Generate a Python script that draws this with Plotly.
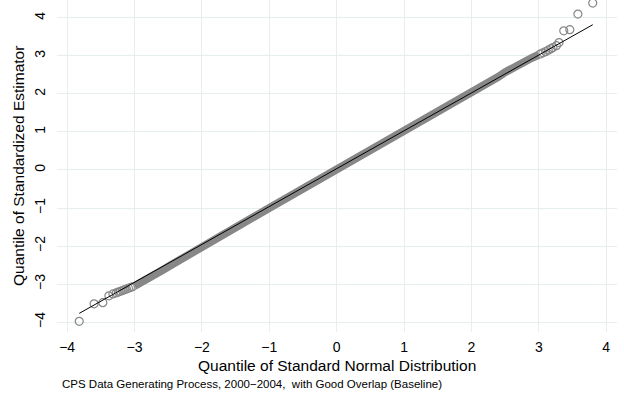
import plotly.graph_objects as go

# Dense central band of the QQ plot
band_x = [-3.0, -2.9, -2.8, -2.6, -2.4, -2.2, -2.0, -1.5, -1.0, -0.5, 0.0,
          0.5, 1.0, 1.5, 2.0, 2.2, 2.4, 2.5, 2.6, 2.7, 2.8, 2.9, 3.0]
band_y = [-3.05, -2.96, -2.86, -2.65, -2.44, -2.22, -2.01, -1.51, -1.0, -0.5, 0.0,
          0.5, 1.0, 1.51, 2.02, 2.23, 2.45, 2.57, 2.68, 2.76, 2.86, 2.95, 3.03]

# Individual tail points (hollow circles)
tail_x = [-3.82, -3.60, -3.47, -3.38, -3.32, -3.27, -3.24, -3.21, -3.18, -3.15, -3.12,
          -3.09, -3.06, -3.03,
          3.02, 3.06, 3.10, 3.14, 3.18, 3.21, 3.26, 3.30, 3.37, 3.46, 3.58, 3.80]
tail_y = [-3.98, -3.52, -3.49, -3.31, -3.26, -3.23, -3.21, -3.19, -3.17, -3.15, -3.13,
          -3.11, -3.09, -3.07,
          3.05, 3.08, 3.11, 3.15, 3.19, 3.22, 3.27, 3.35, 3.66, 3.69, 4.10, 4.39]

# Reference line endpoints
ref_x = [-3.82, 3.80]
ref_y = [-3.77, 3.82]

x_ticks = [-4, -3, -2, -1, 0, 1, 2, 3, 4]
y_ticks = [-4, -3, -2, -1, 0, 1, 2, 3, 4]

FONT = "Liberation Sans, Arial, sans-serif"
GRAY = "#878787"

fig = go.Figure()
fig.add_trace(go.Scatter(x=band_x, y=band_y, mode="lines",
                         line=dict(color=GRAY, width=8), hoverinfo="skip"))
fig.add_trace(go.Scatter(x=tail_x, y=tail_y, mode="markers",
                         marker=dict(symbol="circle-open", size=8, color=GRAY,
                                     line=dict(width=1.2, color=GRAY))))
fig.add_trace(go.Scatter(x=ref_x, y=ref_y, mode="lines",
                         line=dict(color="black", width=1)))

fig.update_layout(
    width=624, height=401,
    margin=dict(l=57, r=7, t=0, b=69),
    paper_bgcolor="white", plot_bgcolor="white",
    showlegend=False,
    font=dict(family=FONT, size=14, color="black"),
    xaxis=dict(range=[-4.15, 4.16], tickvals=x_ticks, showgrid=True, automargin=False,
               gridcolor="#e6eeee", gridwidth=1.3, zeroline=False, showline=False,
               ticks="", ticklabelstandoff=5, tickfont=dict(size=14)),
    yaxis=dict(range=[-4.26, 4.47], tickvals=y_ticks, showgrid=True, automargin=False,
               gridcolor="#e6eeee", gridwidth=1.3, zeroline=False, showline=False,
               ticks="", tickangle=-90, ticklabelstandoff=8, tickfont=dict(size=14)),
    annotations=[
        dict(text="Quantile of Standard Normal Distribution", xref="paper", yref="paper",
             x=0.5, y=-0.102, xanchor="center", yanchor="middle", showarrow=False,
             font=dict(size=15.5)),
        dict(text="Quantile of Standardized Estimator", xref="paper", yref="paper",
             x=-0.0696, y=0.5, xanchor="center", yanchor="middle", showarrow=False,
             textangle=-90, font=dict(size=15.5)),
        dict(text="CPS Data Generating Process, 2000\u22122004,&nbsp; with Good Overlap (Baseline)",
             xref="paper", yref="paper", x=0.005, y=-0.157, xanchor="left",
             yanchor="middle", showarrow=False, font=dict(size=11.5)),
    ],
)

fig.write_html("out.html", config={"displayModeBar": False},
               post_script="document.body.style.margin='0px';")
